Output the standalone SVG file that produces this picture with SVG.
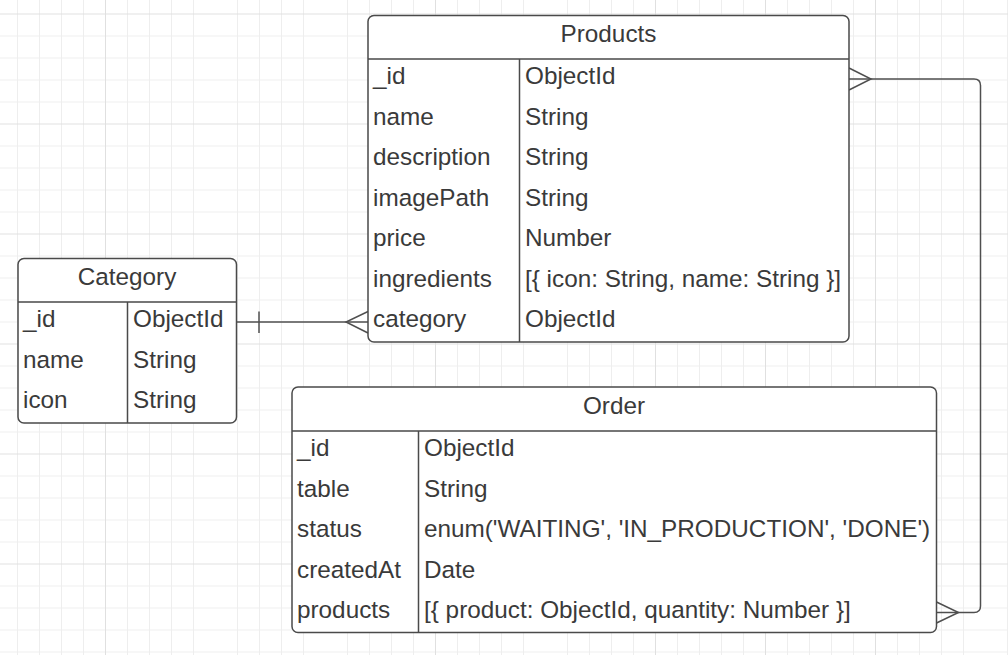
<svg xmlns="http://www.w3.org/2000/svg" width="1008" height="655" viewBox="0 0 1008 655">
<defs>
<pattern id="grid" x="105" y="123.5" width="110" height="110" patternUnits="userSpaceOnUse">
<path d="M22.5 0V110M44.5 0V110M66.5 0V110M88.5 0V110M0 22.5H110M0 44.5H110M0 66.5H110M0 88.5H110" stroke="#eeeeee" stroke-width="1" fill="none"/>
<path d="M0.5 0V110M0 0.5H110" stroke="#e0e0e0" stroke-width="1" fill="none"/>
</pattern>
</defs>
<style>
.box{fill:#ffffff;stroke:#4a4a4a;stroke-width:1.5}
.ln{stroke:#4a4a4a;stroke-width:1.5;fill:none}
.t{font-family:"Liberation Sans",Arial,sans-serif;font-size:24.3px;fill:#3a3a3a}
.h{text-anchor:middle}
.conn{stroke:#4f4f4f;stroke-width:1.5;fill:none}
</style>
<rect width="1008" height="655" fill="#ffffff"/>
<rect width="1008" height="655" fill="url(#grid)"/>

<g id="connectors">
<path class="conn" d="M236.5 322H368"/>
<path class="conn" d="M259 311.5V333"/>
<path class="conn" d="M368 311.5L346 322L368 333"/>
<path class="conn" d="M849 79H974Q980.5 79 980.5 85.5V606Q980.5 612.5 974 612.5H936.5"/>
<path class="conn" d="M849 68L871 79L849 90"/>
<path class="conn" d="M936.5 602L958.5 612.5L936.5 623"/>
</g>

<g id="products">
<rect class="box" x="368" y="15.5" width="481" height="326.5" rx="6"/>
<path class="ln" d="M368 59H849M519.5 59V342"/>
<text class="t h" x="608.5" y="42">Products</text>
<text class="t" x="373" y="84">_id</text><text class="t" x="525" y="84">ObjectId</text>
<text class="t" x="373" y="124.5">name</text><text class="t" x="525" y="124.5">String</text>
<text class="t" x="373" y="165">description</text><text class="t" x="525" y="165">String</text>
<text class="t" x="373" y="205.5">imagePath</text><text class="t" x="525" y="205.5">String</text>
<text class="t" x="373" y="246">price</text><text class="t" x="525" y="246">Number</text>
<text class="t" x="373" y="286.5">ingredients</text><text class="t" x="525" y="286.5">[{ icon: String, name: String }]</text>
<text class="t" x="373" y="327">category</text><text class="t" x="525" y="327">ObjectId</text>
</g>

<g id="category">
<rect class="box" x="18" y="258.5" width="218.5" height="164.5" rx="6"/>
<path class="ln" d="M18 302H236.5M127.5 302V423"/>
<text class="t h" x="127" y="285">Category</text>
<text class="t" x="23" y="327">_id</text><text class="t" x="133" y="327">ObjectId</text>
<text class="t" x="23" y="367.5">name</text><text class="t" x="133" y="367.5">String</text>
<text class="t" x="23" y="408">icon</text><text class="t" x="133" y="408">String</text>
</g>

<g id="order">
<rect class="box" x="292" y="387" width="644.5" height="245.5" rx="6"/>
<path class="ln" d="M292 431H936.5M418.5 431V632.5"/>
<text class="t h" x="614" y="414">Order</text>
<text class="t" x="297" y="456">_id</text><text class="t" x="424" y="456">ObjectId</text>
<text class="t" x="297" y="496.5">table</text><text class="t" x="424" y="496.5">String</text>
<text class="t" x="297" y="537">status</text><text class="t" x="424" y="537">enum('WAITING', 'IN_PRODUCTION', 'DONE')</text>
<text class="t" x="297" y="577.5">createdAt</text><text class="t" x="424" y="577.5">Date</text>
<text class="t" x="297" y="618">products</text><text class="t" x="424" y="618">[{ product: ObjectId, quantity: Number }]</text>
</g>
</svg>
